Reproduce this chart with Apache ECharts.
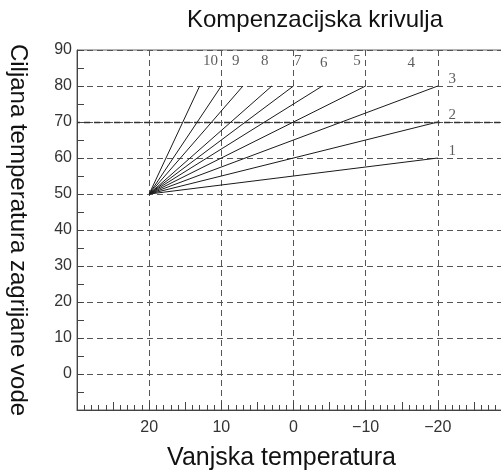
<!DOCTYPE html>
<html>
<head>
<meta charset="utf-8">
<script src="https://cdn.jsdelivr.net/npm/echarts@6/dist/echarts.min.js"></script>
<style>
  html, body { margin: 0; padding: 0; background: #fff; }
  #main { width: 501px; height: 474px; }
</style>
</head>
<body>
<div id="main"></div>
<script>
// krivulje: sve krecu iz (20, 50)
var startPoint = [20, 50];
var curveNames = ['1', '2', '3', '4', '5', '6', '7', '8', '9', '10'];
var curveEndX = [-20, -20, -20, -10, -4, 0, 3, 7, 10, 13];
var curveEndY = [60, 70, 80, 80, 80, 80, 80, 80, 80, 80];
// gdje stoje brojevi krivulja (u jedinicama osi)
var labelX = [-22, -22, -22, -16.3, -8.8, -4.2, -0.6, 4, 8, 11.5];
var labelY = [62, 72, 82, 86.4, 87, 86.4, 87, 87, 87, 87];
var yTicks = [0, 10, 20, 30, 40, 50, 60, 70, 80, 90];
var xTicks = [20, 10, 0, -10, -20];

var myChart = echarts.init(document.getElementById('main'));

var series = [];
for (var i = 0; i < curveNames.length; i++) {
    series.push({
        name: curveNames[i],
        type: 'line',
        xAxisIndex: 0,
        symbol: 'none',
        silent: true,
        lineStyle: { color: '#1a1a1a', width: 1 },
        data: [startPoint, [curveEndX[i], curveEndY[i]]]
    });
}
// brojevi krivulja
series.push({
    type: 'scatter',
    xAxisIndex: 0,
    symbolSize: 0,
    silent: true,
    label: {
        show: true,
        position: 'inside',
        formatter: function (p) { return p.name; },
        fontFamily: 'Liberation Serif',
        fontSize: 15,
        color: '#333'
    },
    data: curveNames.map(function (n, i) {
        return { name: n, value: [labelX[i], labelY[i]] };
    })
});
// tamnija linija na 70
series[1].markLine = {
    silent: true,
    symbol: 'none',
    label: { show: false },
    lineStyle: { color: '#333', width: 1.4, type: [6, 4] },
    data: [{ yAxis: 70 }]
};

var option = {
    animation: false,
    title: {
        text: 'Kompenzacijska krivulja',
        left: 310,
        textAlign: 'center',
        top: 3,
        textStyle: {
            fontFamily: 'Liberation Sans',
            fontWeight: 'normal',
            fontSize: 24,
            color: '#111'
        }
    },
    grid: {
        left: 77,
        right: -9,
        top: 50,
        bottom: 64,
        outerBoundsMode: 'none',
        containLabel: false,
        show: true,
        borderColor: '#666',
        borderWidth: 1
    },
    xAxis: [{
        type: 'value',
        min: -30,
        max: 30,
        interval: 10,
        inverse: true,
        position: 'bottom',
        name: 'Vanjska temperatura',
        nameLocation: 'middle',
        nameGap: 36,
        nameTextStyle: {
            fontFamily: 'Liberation Sans', fontSize: 25, color: '#111',
            padding: [0, 24, 0, 0]
        },
        axisLine: { show: true, onZero: false, lineStyle: { color: '#444', width: 1 } },
        axisTick: { show: true, inside: true, length: 8, lineStyle: { color: '#444' } },
        minorTick: { show: true, splitNumber: 10, length: 5, lineStyle: { color: '#444' } },
        axisLabel: {
            margin: 10,
            fontFamily: 'Liberation Sans',
            fontSize: 16,
            color: '#333',
            formatter: function (v) {
                return xTicks.indexOf(v) >= 0 ? (v < 0 ? '\u2212' + (-v) : String(v)) : '';
            }
        },
        splitLine: { show: true, lineStyle: { color: '#555', width: 1, type: [6, 4] } }
    }, {
        // visoke crtice na svakih 5
        type: 'value',
        min: -30,
        max: 30,
        interval: 5,
        inverse: true,
        position: 'bottom',
        axisLine: { show: false, onZero: false },
        axisTick: { show: true, inside: true, length: 8, lineStyle: { color: '#444' } },
        axisLabel: { show: false },
        splitLine: { show: false }
    }],
    yAxis: {
        type: 'value',
        min: -10,
        max: 90,
        interval: 10,
        name: 'Ciljana temperatura zagrijane vode',
        nameLocation: 'middle',
        nameRotate: -90,
        nameGap: 47,
        nameTextStyle: { fontFamily: 'Liberation Sans', fontSize: 24, color: '#111' },
        axisLine: { show: true, onZero: false, lineStyle: { color: '#444', width: 1 } },
        axisTick: { show: true, inside: true, length: 7, lineStyle: { color: '#444' } },
        minorTick: { show: true, splitNumber: 2, length: 7, lineStyle: { color: '#444' } },
        axisLabel: {
            margin: 5,
            fontFamily: 'Liberation Sans',
            fontSize: 16,
            color: '#333',
            formatter: function (v) {
                return yTicks.indexOf(v) >= 0 ? String(v) : '';
            }
        },
        splitLine: { show: true, lineStyle: { color: '#555', width: 1, type: [6, 4] } }
    },
    series: series
};
myChart.setOption(option);
</script>
</body>
</html>
